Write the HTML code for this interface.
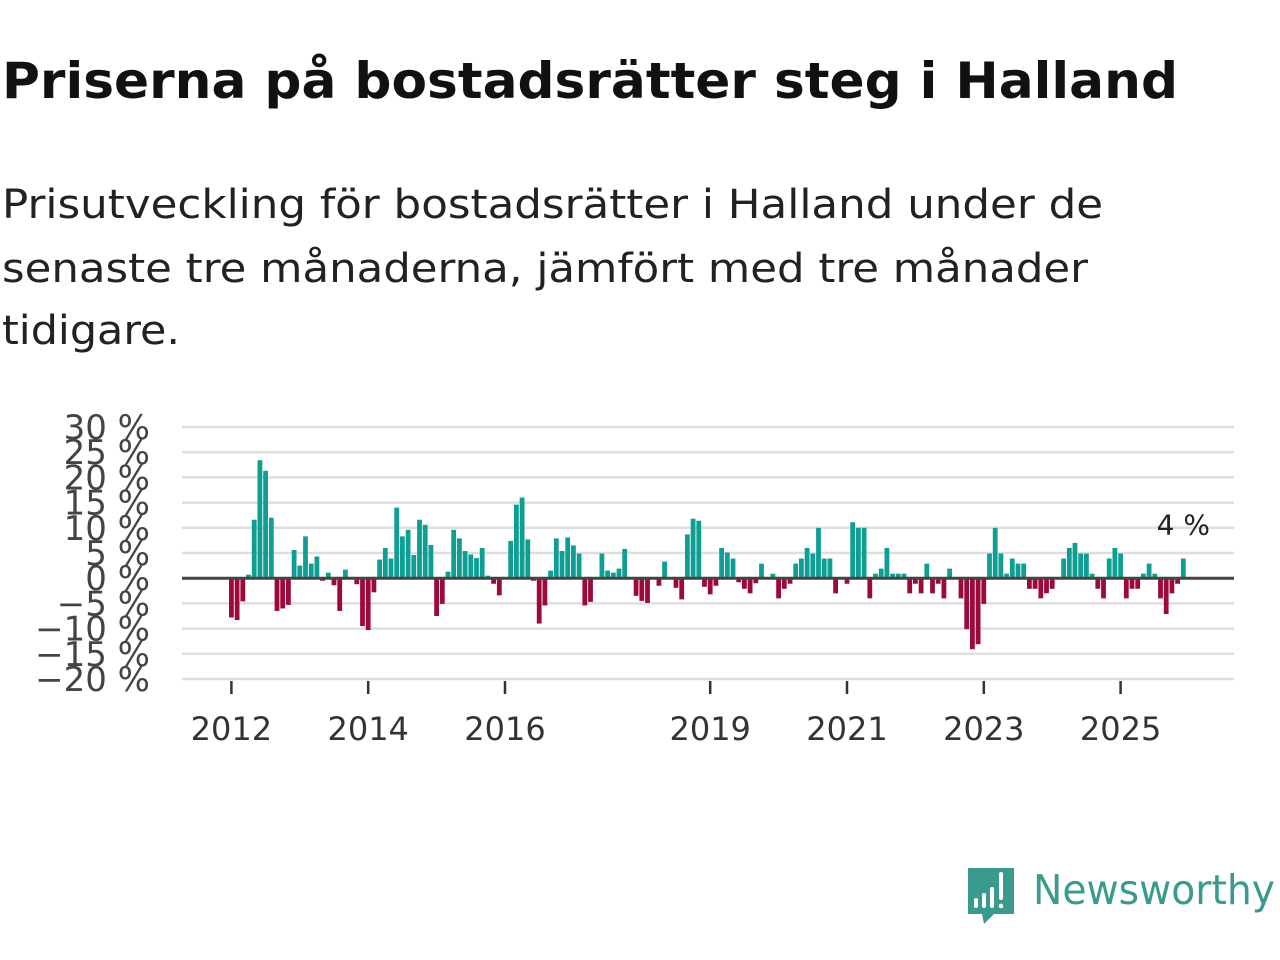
<!DOCTYPE html>
<html><head><meta charset="utf-8">
<style>
html,body{margin:0;padding:0;background:#fff;}
svg{display:block;}
text{font-family:"DejaVu Sans","Liberation Sans",sans-serif;}
</style></head>
<body>
<svg id="root" width="1280" height="960" viewBox="0 0 1280 960" xmlns="http://www.w3.org/2000/svg">
<text x="2" y="98" font-size="50" font-weight="bold" fill="#111" textLength="1176" lengthAdjust="spacingAndGlyphs">Priserna på bostadsrätter steg i Halland</text>
<g font-size="40" fill="#222">
<text x="2" y="218" textLength="1101" lengthAdjust="spacingAndGlyphs">Prisutveckling för bostadsrätter i Halland under de</text>
<text x="2" y="282" textLength="1086" lengthAdjust="spacingAndGlyphs">senaste tre månaderna, jämfört med tre månader</text>
<text x="2" y="344" textLength="178" lengthAdjust="spacingAndGlyphs">tidigare.</text>
</g>
<g id="grid"></g>
<g id="ylabels"></g>
<g id="bars"></g>
<g id="xaxis"></g>
<text id="lastlabel" font-size="28" fill="#222" text-anchor="middle">4 %</text>
<g>
<path d="M968 868 h46 v46 h-20 l-10 10 l-2 -10 h-14 z" fill="#3a9a8d"/>
<rect x="974" y="898" width="4" height="10" rx="2" fill="#fff"/>
<rect x="982" y="893" width="4" height="15" rx="2" fill="#fff"/>
<rect x="990" y="887" width="4" height="21" rx="2" fill="#fff"/>
<rect x="999" y="872" width="4" height="28" rx="2" fill="#fff"/>
<circle cx="1001" cy="906" r="2.3" fill="#fff"/>
<text x="1033" y="904" font-size="41" fill="#3a9a8d" font-family="Liberation Sans, sans-serif" textLength="242" lengthAdjust="spacingAndGlyphs">Newsworthy</text>
</g>
</svg>
<script>
const values = [-7.8,-8.3,-4.6,0.7,11.6,23.4,21.3,12.0,-6.5,-6.0,-5.3,5.6,2.5,8.3,2.9,4.3,-0.5,1.1,-1.4,-6.5,1.7,0,-1.2,-9.5,-10.3,-2.8,3.7,6.0,3.9,14.0,8.3,9.6,4.6,11.6,10.6,6.6,-7.5,-5.1,1.3,9.6,7.9,5.4,4.7,4.0,6.0,0.5,-1.1,-3.4,0,7.4,14.6,16.0,7.7,-0.5,-9.0,-5.4,1.5,7.9,5.4,8.1,6.5,4.9,-5.4,-4.7,0,4.9,1.5,1.1,1.9,5.8,0,-3.5,-4.5,-4.9,0,-1.5,3.3,0,-1.9,-4.2,8.7,11.8,11.4,-1.7,-3.2,-1.5,6.0,5.1,3.9,-0.8,-2.1,-3.0,-1.0,2.9,0,0.9,-4.0,-2.1,-1.1,2.9,3.9,6.0,4.9,10.0,3.9,3.9,-3.0,0,-1.1,11.1,10.0,10.0,-4.0,0.9,1.9,6.0,0.9,0.9,0.9,-3.0,-1.1,-3.0,2.9,-3.0,-1.1,-4.0,1.9,0,-4.0,-10.1,-14.1,-13.1,-5.1,4.9,10.0,4.9,0.9,3.9,2.9,2.9,-2.1,-2.1,-4.0,-3.0,-2.1,0,3.9,6.0,7.0,4.9,4.9,0.9,-2.1,-4.0,3.9,6.0,4.9,-4.0,-2.1,-2.1,0.9,2.9,0.9,-4.0,-7.1,-3.0,-1.1,3.9];
const startYear = 2012;
const yTicks = [30,25,20,15,10,5,0,-5,-10,-15,-20];
const xTickYears = [2012,2014,2016,2019,2021,2023,2025];
const lastLabel = "4 %";

const NS="http://www.w3.org/2000/svg";
const yMin=-20,yMax=30,yTop=427,yBot=679;
function yScale(v){return yBot-(v-yMin)/(yMax-yMin)*(yBot-yTop);}
const x0=231.4, monthW=5.70;
function xScale(monthIndex){return x0+monthIndex*monthW;}
function mk(tag,attrs,parent){const e=document.createElementNS(NS,tag);for(const k in attrs)e.setAttribute(k,attrs[k]);parent.appendChild(e);return e;}

const grid=document.getElementById('grid'), yl=document.getElementById('ylabels');
yTicks.forEach(t=>{
  if(t!==0){const l=mk('line',{x1:182,x2:1234,y1:yScale(t),y2:yScale(t),stroke:'#dedede','stroke-width':2.5},grid);
  
  }
  const tx=mk('text',{x:150,y:yScale(t)+12,'font-size':34,fill:'#444','text-anchor':'end'},yl);
  
  
  tx.textContent=(t<0?'\u2212'+(-t):t)+' %';
});
const bars=document.getElementById('bars');
const z=yScale(0);
values.forEach((v,i)=>{
  const cx=xScale(i), y=yScale(v);
  const r=mk('rect',{x:cx-2.4,width:4.8,y:Math.min(y,z),height:Math.abs(y-z),fill:v>=0?'#0f9e93':'#9c0a3c'},bars);
  
  
});
const zl=mk('line',{x1:182,x2:1234,y1:z,y2:z,stroke:'#444','stroke-width':3},bars);


const xa=document.getElementById('xaxis');
xTickYears.forEach(yr=>{
  const x=xScale((yr-startYear)*12);
  const tk=mk('line',{x1:x,x2:x,y1:681,y2:694,stroke:'#333','stroke-width':2.5},xa);
  
  
  const tx=mk('text',{x:x,y:740,'font-size':32,fill:'#333','text-anchor':'middle'},xa);
  
  
  tx.textContent=yr;
});
const ll=document.getElementById('lastlabel');
const li=values.length-1;
ll.setAttribute('x',xScale(li));
ll.setAttribute('y',yScale(values[li])-24);
ll.textContent=lastLabel;
</script>
</body></html>
